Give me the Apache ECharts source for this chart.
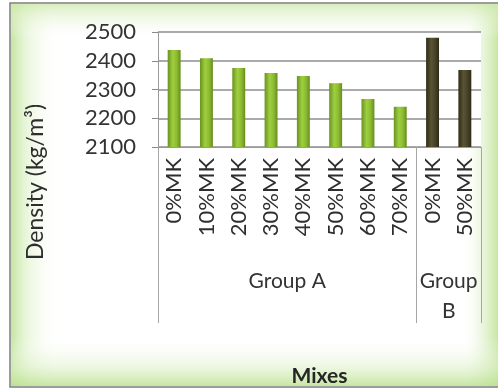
<!DOCTYPE html>
<html>
<head>
<meta charset="utf-8">
<script src="https://cdn.jsdelivr.net/npm/echarts@6/dist/echarts.min.js"></script>
<style>
  html, body { margin: 0; padding: 0; background: #ffffff; }
  #chart { width: 498px; height: 388px; }
</style>
</head>
<body>
<div id="chart"></div>
<script>
// Mix labels along the category axis
const mixes = ['0%MK', '10%MK', '20%MK', '30%MK', '40%MK', '50%MK', '60%MK', '70%MK', '0%MK', '50%MK'];
// Density values (kg/m³) per group
const groupA = [2437, 2409, 2375, 2357, 2347, 2322, 2267, 2240];
const groupB = [2480, 2368];
// Group captions and their spans on the axis (in category units)
const groups = ['Group A', 'Group\nB'];
const groupSpans = [[0, 8], [8, 10]];
// Value axis ticks
const yTicks = [2100, 2200, 2300, 2400, 2500];
const yTitle = 'Density (kg/m³)';

const FONT = 'Lato, "Open Sans", sans-serif';
const n = mixes.length;
const seriesA = mixes.map((_, i) => (i < groupA.length ? groupA[i] : '-'));
const seriesB = mixes.map((_, i) => (i >= groupA.length ? groupB[i - groupA.length] : '-'));

const groupBounds = [];
groupSpans.forEach(s => { if (!groupBounds.includes(s[0])) groupBounds.push(s[0]); groupBounds.push(s[1]); });
const groupCenters = groupSpans.map(s => (s[0] + s[1]) / 2);

function hGrad(stops) {
  return { type: 'linear', x: 0, y: 0, x2: 1, y2: 0, colorStops: stops.map(s => ({ offset: s[0], color: s[1] })) };
}
function vGrad(stops) {
  return { type: 'linear', x: 0, y: 0, x2: 0, y2: 1, colorStops: stops.map(s => ({ offset: s[0], color: s[1] })) };
}

const chart = echarts.init(document.getElementById('chart'), null, { renderer: 'canvas' });

chart.setOption({
  animation: false,
  backgroundColor: '#ffffff',
  graphic: [
    // chart frame with soft green edges
    { type: 'rect', z: -10, shape: { x: 10, y: 3, width: 495, height: 384 },
      style: { fill: '#ffffff', stroke: '#7c7c7c', lineWidth: 1.5 } },
    { type: 'rect', z: -9, shape: { x: 11, y: 4, width: 48, height: 382 },
      style: { fill: hGrad([[0, 'rgba(182,222,135,0.8)'], [0.3, 'rgba(212,237,185,0.55)'], [1, 'rgba(255,255,255,0)']]) } },
    { type: 'rect', z: -9, shape: { x: 462, y: 4, width: 36, height: 382 },
      style: { fill: hGrad([[0, 'rgba(255,255,255,0)'], [0.55, 'rgba(215,237,190,0.5)'], [1, 'rgba(185,224,140,0.8)']]) } },
    { type: 'rect', z: -9, shape: { x: 11, y: 4, width: 487, height: 36 },
      style: { fill: vGrad([[0, 'rgba(205,232,170,0.75)'], [1, 'rgba(255,255,255,0)']]) } },
    { type: 'rect', z: -9, shape: { x: 11, y: 336, width: 487, height: 50 },
      style: { fill: vGrad([[0, 'rgba(255,255,255,0)'], [0.6, 'rgba(220,240,198,0.5)'], [1, 'rgba(185,224,140,0.8)']]) } },
    // value axis title
    { type: 'text', z: 5, x: 36, y: 182, rotation: Math.PI / 2,
      style: { text: yTitle, font: '23px ' + FONT, fill: '#2e2e2e', align: 'center', verticalAlign: 'middle' } }
  ],
  grid: {
    left: 158, right: 17, top: 32, bottom: 241,
    show: true, backgroundColor: '#ffffff', borderWidth: 0
  },
  xAxis: [
    {
      type: 'category',
      data: mixes,
      boundaryGap: true,
      axisLine: { show: true, lineStyle: { color: '#9a9a9a', width: 1 } },
      axisTick: { show: false },
      axisLabel: {
        rotate: 90, margin: 11, interval: 0,
        fontFamily: FONT, fontSize: 22, color: '#2e2e2e'
      },
      name: 'Mixes',
      nameLocation: 'middle',
      nameGap: 219,
      nameTextStyle: { fontFamily: FONT, fontSize: 21, fontWeight: 'bold', color: '#262626' }
    },
    {
      type: 'value',
      min: 0, max: n,
      position: 'bottom',
      axisLine: { show: false },
      splitLine: { show: false },
      axisTick: {
        show: true, length: 176, customValues: groupBounds,
        lineStyle: { color: '#a6a6a6', width: 1 }
      },
      axisLabel: {
        show: true, margin: 119, customValues: groupCenters,
        formatter: v => groups[groupCenters.indexOf(v)] || '',
        fontFamily: FONT, fontSize: 21, color: '#333333', lineHeight: 30, align: 'center'
      }
    }
  ],
  yAxis: {
    type: 'value',
    min: yTicks[0], max: yTicks[yTicks.length - 1], interval: 100,
    axisLine: { show: true, lineStyle: { color: '#9a9a9a', width: 1 } },
    axisTick: { show: true, length: 6, lineStyle: { color: '#8a8a8a' } },
    splitLine: { show: true, lineStyle: { color: '#8e8e8e', width: 1.5 } },
    axisLabel: { margin: 22, fontFamily: FONT, fontSize: 22, color: '#333333', formatter: v => String(v) }
  },
  series: [
    {
      name: 'Group A', type: 'bar', data: seriesA, barWidth: '40%', barGap: '-100%',
      itemStyle: { color: hGrad([[0, '#6a921f'], [0.4, '#9fcf40'], [0.7, '#8dbb31'], [1, '#678c1c']]) }
    },
    {
      name: 'Group B', type: 'bar', data: seriesB, barWidth: '40%', barGap: '-100%',
      itemStyle: { color: hGrad([[0, '#2f2b16'], [0.4, '#5a5434'], [0.7, '#47422a'], [1, '#2e2a15']]) }
    }
  ]
});
</script>
</body>
</html>
